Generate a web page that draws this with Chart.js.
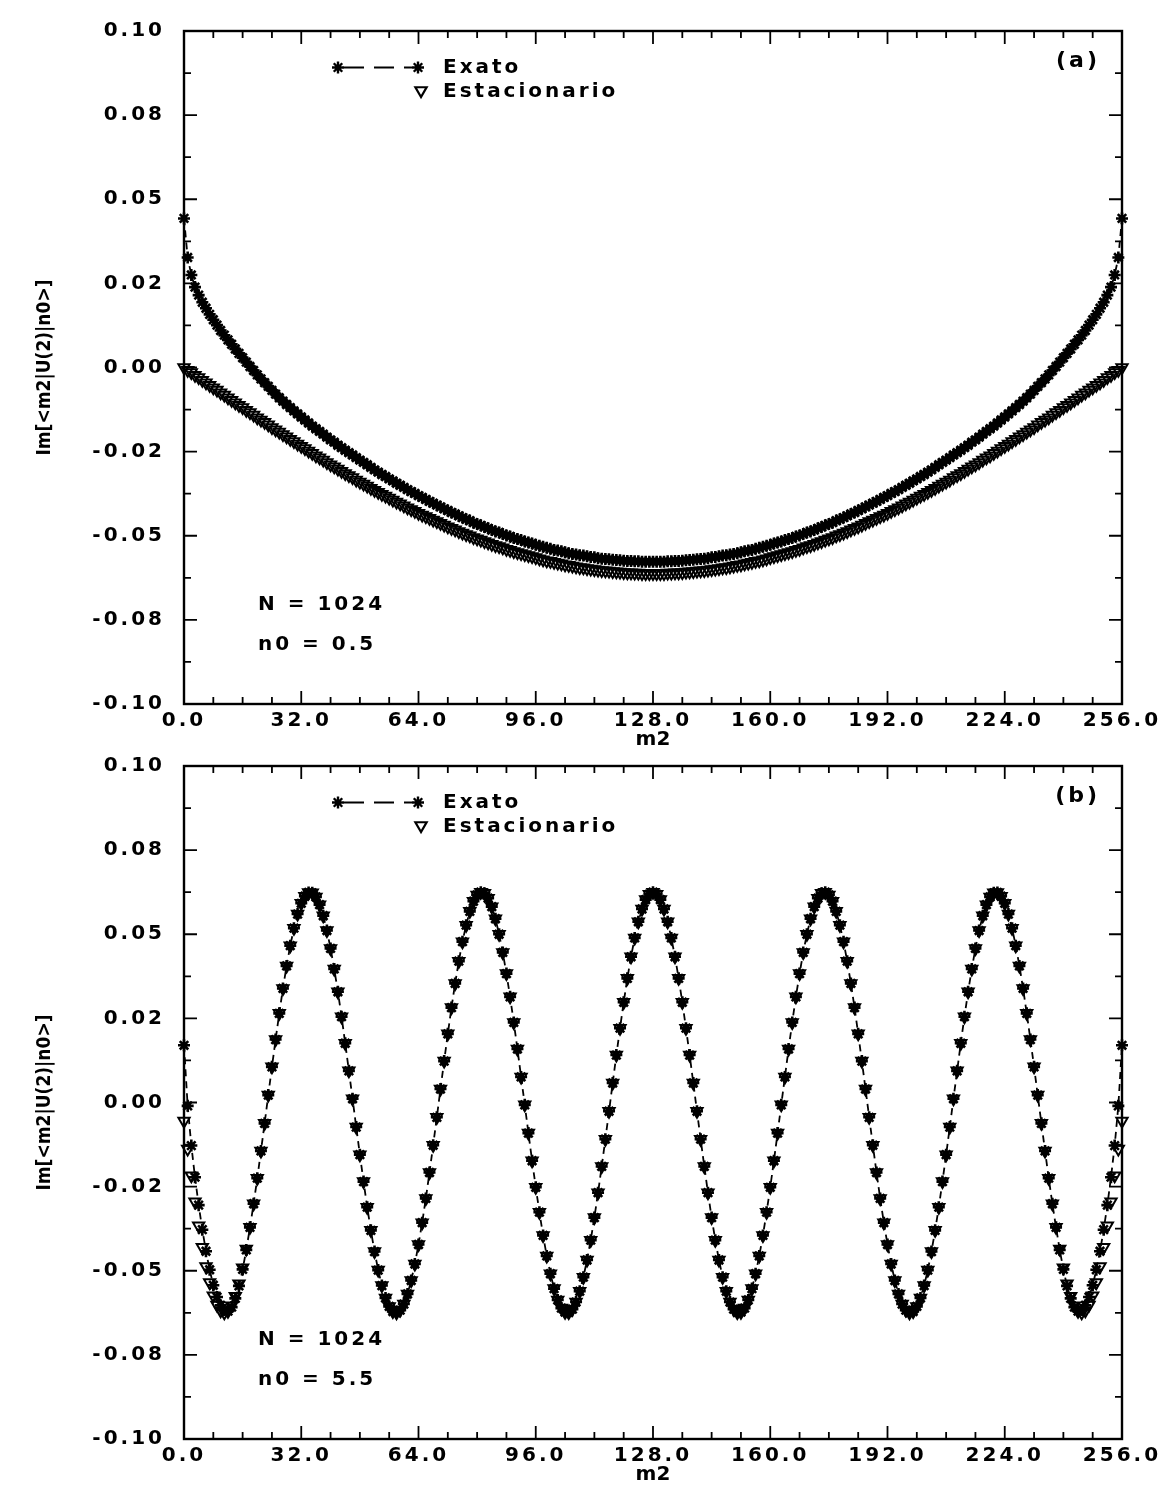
<!DOCTYPE html>
<html><head><meta charset="utf-8">
<script src="https://cdn.jsdelivr.net/npm/chart.js@4"></script>
<style>
html,body{margin:0;padding:0;background:#fff;}
#wrap{position:relative;width:1169px;height:1497px;background:#fff;overflow:hidden;}
canvas{position:absolute;left:0;}
#ca{top:0px;}
#cb{top:735px;}
</style></head><body>
<div id="wrap"><canvas id="ca" width="1169" height="762"></canvas><canvas id="cb" width="1169" height="762"></canvas></div>
<script>
const m2 = [0,1,2,3,4,5,6,7,8,9,10,11,12,13,14,15,16,17,18,19,20,21,22,23,24,25,26,27,28,29,30,31,32,33,34,35,36,37,38,39,40,41,42,43,44,45,46,47,48,49,50,51,52,53,54,55,56,57,58,59,60,61,62,63,64,65,66,67,68,69,70,71,72,73,74,75,76,77,78,79,80,81,82,83,84,85,86,87,88,89,90,91,92,93,94,95,96,97,98,99,100,101,102,103,104,105,106,107,108,109,110,111,112,113,114,115,116,117,118,119,120,121,122,123,124,125,126,127,128,129,130,131,132,133,134,135,136,137,138,139,140,141,142,143,144,145,146,147,148,149,150,151,152,153,154,155,156,157,158,159,160,161,162,163,164,165,166,167,168,169,170,171,172,173,174,175,176,177,178,179,180,181,182,183,184,185,186,187,188,189,190,191,192,193,194,195,196,197,198,199,200,201,202,203,204,205,206,207,208,209,210,211,212,213,214,215,216,217,218,219,220,221,222,223,224,225,226,227,228,229,230,231,232,233,234,235,236,237,238,239,240,241,242,243,244,245,246,247,248,249,250,251,252,253,254,255,256];

const exatoA = [0.0443,0.0327,0.0275,0.0239,0.0215,0.0194,0.0176,0.0158,0.0142,0.0126,
0.0110,0.0096,0.0082,0.0069,0.0055,0.0042,0.0029,0.0016,0.0003,-0.0009,
-0.0022,-0.0034,-0.0045,-0.0056,-0.0068,-0.0079,-0.0090,-0.0100,-0.0110,-0.0119,
-0.0129,-0.0138,-0.0147,-0.0156,-0.0165,-0.0174,-0.0182,-0.0190,-0.0198,-0.0207,
-0.0215,-0.0222,-0.0231,-0.0238,-0.0246,-0.0253,-0.0260,-0.0268,-0.0275,-0.0282,
-0.0289,-0.0297,-0.0304,-0.0311,-0.0318,-0.0324,-0.0331,-0.0337,-0.0344,-0.0350,
-0.0356,-0.0363,-0.0369,-0.0374,-0.0381,-0.0386,-0.0392,-0.0398,-0.0403,-0.0409,
-0.0414,-0.0420,-0.0425,-0.0431,-0.0435,-0.0441,-0.0446,-0.0451,-0.0455,-0.0461,
-0.0465,-0.0469,-0.0474,-0.0478,-0.0483,-0.0487,-0.0490,-0.0495,-0.0499,-0.0502,
-0.0507,-0.0510,-0.0513,-0.0517,-0.0520,-0.0523,-0.0527,-0.0530,-0.0533,-0.0536,
-0.0539,-0.0542,-0.0544,-0.0546,-0.0549,-0.0552,-0.0554,-0.0556,-0.0558,-0.0559,
-0.0561,-0.0563,-0.0564,-0.0567,-0.0568,-0.0569,-0.0570,-0.0571,-0.0572,-0.0573,
-0.0574,-0.0575,-0.0575,-0.0576,-0.0576,-0.0577,-0.0577,-0.0577,-0.0577,
-0.0577,-0.0577,-0.0577,-0.0576,-0.0576,-0.0575,-0.0575,-0.0574,
-0.0573,-0.0572,-0.0571,-0.0570,-0.0569,-0.0568,-0.0567,-0.0564,-0.0563,-0.0561,
-0.0559,-0.0558,-0.0556,-0.0554,-0.0552,-0.0549,-0.0546,-0.0544,-0.0542,-0.0539,
-0.0536,-0.0533,-0.0530,-0.0527,-0.0523,-0.0520,-0.0517,-0.0513,-0.0510,-0.0507,
-0.0502,-0.0499,-0.0495,-0.0490,-0.0487,-0.0483,-0.0478,-0.0474,-0.0469,-0.0465,
-0.0461,-0.0455,-0.0451,-0.0446,-0.0441,-0.0435,-0.0431,-0.0425,-0.0420,-0.0414,
-0.0409,-0.0403,-0.0398,-0.0392,-0.0386,-0.0381,-0.0374,-0.0369,-0.0363,-0.0356,
-0.0350,-0.0344,-0.0337,-0.0331,-0.0324,-0.0318,-0.0311,-0.0304,-0.0297,-0.0289,
-0.0282,-0.0275,-0.0268,-0.0260,-0.0253,-0.0246,-0.0238,-0.0231,-0.0222,-0.0215,
-0.0207,-0.0198,-0.0190,-0.0182,-0.0174,-0.0165,-0.0156,-0.0147,-0.0138,-0.0129,
-0.0119,-0.0110,-0.0100,-0.0090,-0.0079,-0.0068,-0.0056,-0.0045,-0.0034,-0.0022,
-0.0009,0.0003,0.0016,0.0029,0.0042,0.0055,0.0069,0.0082,0.0096,0.0110,
0.0126,0.0142,0.0158,0.0176,0.0194,0.0215,0.0239,0.0275,0.0327,0.0443];

const estacA = [0,-0.0008,-0.0015,-0.0023,-0.0030,-0.0038,-0.0045,-0.0053,-0.0060,-0.0067,
-0.0075,-0.0082,-0.0090,-0.0097,-0.0105,-0.0112,-0.0119,-0.0127,-0.0134,-0.0141,
-0.0149,-0.0156,-0.0163,-0.0170,-0.0178,-0.0185,-0.0192,-0.0199,-0.0206,-0.0213,
-0.0220,-0.0227,-0.0234,-0.0241,-0.0248,-0.0255,-0.0262,-0.0268,-0.0275,-0.0282,
-0.0289,-0.0295,-0.0302,-0.0308,-0.0315,-0.0321,-0.0327,-0.0334,-0.0340,-0.0346,
-0.0352,-0.0359,-0.0365,-0.0371,-0.0377,-0.0382,-0.0388,-0.0394,-0.0400,-0.0405,
-0.0411,-0.0417,-0.0422,-0.0427,-0.0433,-0.0438,-0.0443,-0.0448,-0.0453,-0.0458,
-0.0463,-0.0468,-0.0473,-0.0478,-0.0482,-0.0487,-0.0492,-0.0496,-0.0500,-0.0505,
-0.0509,-0.0513,-0.0517,-0.0521,-0.0525,-0.0529,-0.0532,-0.0536,-0.0540,-0.0543,
-0.0547,-0.0550,-0.0553,-0.0556,-0.0559,-0.0562,-0.0565,-0.0568,-0.0571,-0.0574,
-0.0576,-0.0579,-0.0581,-0.0583,-0.0586,-0.0588,-0.0590,-0.0592,-0.0594,-0.0595,
-0.0597,-0.0599,-0.0600,-0.0602,-0.0603,-0.0604,-0.0605,-0.0606,-0.0607,-0.0608,
-0.0609,-0.0610,-0.0610,-0.0611,-0.0611,-0.0612,-0.0612,-0.0612,-0.0612,
-0.0612,-0.0612,-0.0612,-0.0611,-0.0611,-0.0610,-0.0610,-0.0609,
-0.0608,-0.0607,-0.0606,-0.0605,-0.0604,-0.0603,-0.0602,-0.0600,-0.0599,-0.0597,
-0.0595,-0.0594,-0.0592,-0.0590,-0.0588,-0.0586,-0.0583,-0.0581,-0.0579,-0.0576,
-0.0574,-0.0571,-0.0568,-0.0565,-0.0562,-0.0559,-0.0556,-0.0553,-0.0550,-0.0547,
-0.0543,-0.0540,-0.0536,-0.0532,-0.0529,-0.0525,-0.0521,-0.0517,-0.0513,-0.0509,
-0.0505,-0.0500,-0.0496,-0.0492,-0.0487,-0.0482,-0.0478,-0.0473,-0.0468,-0.0463,
-0.0458,-0.0453,-0.0448,-0.0443,-0.0438,-0.0433,-0.0427,-0.0422,-0.0417,-0.0411,
-0.0405,-0.0400,-0.0394,-0.0388,-0.0382,-0.0377,-0.0371,-0.0365,-0.0359,-0.0352,
-0.0346,-0.0340,-0.0334,-0.0327,-0.0321,-0.0315,-0.0308,-0.0302,-0.0295,-0.0289,
-0.0282,-0.0275,-0.0268,-0.0262,-0.0255,-0.0248,-0.0241,-0.0234,-0.0227,-0.0220,
-0.0213,-0.0206,-0.0199,-0.0192,-0.0185,-0.0178,-0.0170,-0.0163,-0.0156,-0.0149,
-0.0141,-0.0134,-0.0127,-0.0119,-0.0112,-0.0105,-0.0097,-0.0090,-0.0082,-0.0075,
-0.0067,-0.0060,-0.0053,-0.0045,-0.0038,-0.0030,-0.0023,-0.0015,-0.0008,0];

const exatoB = [0.0170,-0.0010,-0.0128,-0.0222,-0.0305,-0.0378,-0.0442,-0.0497,-0.0543,-0.0578,
-0.0603,-0.0617,-0.0620,-0.0608,-0.0582,-0.0545,-0.0496,-0.0438,-0.0371,-0.0301,
-0.0225,-0.0144,-0.0062,0.0022,0.0106,0.0187,0.0265,0.0339,0.0406,0.0466,
0.0518,0.0560,0.0592,0.0613,0.0624,0.0623,0.0611,0.0588,0.0555,0.0511,
0.0458,0.0397,0.0329,0.0255,0.0176,0.0094,0.0011,-0.0073,-0.0155,-0.0235,
-0.0311,-0.0380,-0.0443,-0.0498,-0.0544,-0.0581,-0.0606,-0.0621,-0.0625,-0.0617,
-0.0599,-0.0569,-0.0529,-0.0480,-0.0422,-0.0357,-0.0285,-0.0208,-0.0127,-0.0044,
0.0040,0.0123,0.0204,0.0282,0.0354,0.0420,0.0478,0.0527,0.0568,0.0598,
0.0617,0.0625,0.0622,0.0607,0.0582,0.0546,0.0500,0.0446,0.0383,0.0314,
0.0238,0.0159,0.0076,-0.0007,-0.0091,-0.0173,-0.0252,-0.0326,-0.0395,-0.0456,
-0.0509,-0.0553,-0.0587,-0.0611,-0.0623,-0.0624,-0.0614,-0.0593,-0.0561,-0.0519,
-0.0468,-0.0409,-0.0342,-0.0268,-0.0190,-0.0109,-0.0026,0.0058,0.0141,0.0221,
0.0298,0.0369,0.0433,0.0489,0.0537,0.0575,0.0603,0.0619,0.0625,
0.0619,0.0603,0.0575,0.0537,0.0489,0.0433,0.0369,0.0298,
0.0221,0.0141,0.0058,-0.0026,-0.0109,-0.0190,-0.0268,-0.0342,-0.0409,-0.0468,
-0.0519,-0.0561,-0.0593,-0.0614,-0.0624,-0.0623,-0.0611,-0.0587,-0.0553,-0.0509,
-0.0456,-0.0395,-0.0326,-0.0252,-0.0173,-0.0091,-0.0007,0.0076,0.0159,0.0238,
0.0314,0.0383,0.0446,0.0500,0.0546,0.0582,0.0607,0.0622,0.0625,0.0617,
0.0598,0.0568,0.0527,0.0478,0.0420,0.0354,0.0282,0.0204,0.0123,0.0040,
-0.0044,-0.0127,-0.0208,-0.0285,-0.0357,-0.0422,-0.0480,-0.0529,-0.0569,-0.0599,
-0.0617,-0.0625,-0.0621,-0.0606,-0.0581,-0.0544,-0.0498,-0.0443,-0.0380,-0.0311,
-0.0235,-0.0155,-0.0073,0.0011,0.0094,0.0176,0.0255,0.0329,0.0397,0.0458,
0.0511,0.0555,0.0588,0.0611,0.0623,0.0624,0.0613,0.0592,0.0560,0.0518,
0.0466,0.0406,0.0339,0.0265,0.0187,0.0106,0.0022,-0.0062,-0.0144,-0.0225,
-0.0301,-0.0371,-0.0438,-0.0496,-0.0545,-0.0582,-0.0608,-0.0620,-0.0617,-0.0603,
-0.0578,-0.0543,-0.0497,-0.0442,-0.0378,-0.0305,-0.0222,-0.0128,-0.0010,0.0170];

const estacB = [-0.0055,-0.0138,-0.0218,-0.0295,-0.0366,-0.0430,-0.0487,-0.0535,-0.0574,-0.0602,
-0.0619,-0.0625,-0.0620,-0.0604,-0.0576,-0.0539,-0.0491,-0.0435,-0.0371,-0.0301,
-0.0225,-0.0144,-0.0062,0.0022,0.0106,0.0187,0.0265,0.0339,0.0406,0.0466,
0.0518,0.0560,0.0592,0.0613,0.0624,0.0623,0.0611,0.0588,0.0555,0.0511,
0.0458,0.0397,0.0329,0.0255,0.0176,0.0094,0.0011,-0.0073,-0.0155,-0.0235,
-0.0311,-0.0380,-0.0443,-0.0498,-0.0544,-0.0581,-0.0606,-0.0621,-0.0625,-0.0617,
-0.0599,-0.0569,-0.0529,-0.0480,-0.0422,-0.0357,-0.0285,-0.0208,-0.0127,-0.0044,
0.0040,0.0123,0.0204,0.0282,0.0354,0.0420,0.0478,0.0527,0.0568,0.0598,
0.0617,0.0625,0.0622,0.0607,0.0582,0.0546,0.0500,0.0446,0.0383,0.0314,
0.0238,0.0159,0.0076,-0.0007,-0.0091,-0.0173,-0.0252,-0.0326,-0.0395,-0.0456,
-0.0509,-0.0553,-0.0587,-0.0611,-0.0623,-0.0624,-0.0614,-0.0593,-0.0561,-0.0519,
-0.0468,-0.0409,-0.0342,-0.0268,-0.0190,-0.0109,-0.0026,0.0058,0.0141,0.0221,
0.0298,0.0369,0.0433,0.0489,0.0537,0.0575,0.0603,0.0619,0.0625,
0.0619,0.0603,0.0575,0.0537,0.0489,0.0433,0.0369,0.0298,
0.0221,0.0141,0.0058,-0.0026,-0.0109,-0.0190,-0.0268,-0.0342,-0.0409,-0.0468,
-0.0519,-0.0561,-0.0593,-0.0614,-0.0624,-0.0623,-0.0611,-0.0587,-0.0553,-0.0509,
-0.0456,-0.0395,-0.0326,-0.0252,-0.0173,-0.0091,-0.0007,0.0076,0.0159,0.0238,
0.0314,0.0383,0.0446,0.0500,0.0546,0.0582,0.0607,0.0622,0.0625,0.0617,
0.0598,0.0568,0.0527,0.0478,0.0420,0.0354,0.0282,0.0204,0.0123,0.0040,
-0.0044,-0.0127,-0.0208,-0.0285,-0.0357,-0.0422,-0.0480,-0.0529,-0.0569,-0.0599,
-0.0617,-0.0625,-0.0621,-0.0606,-0.0581,-0.0544,-0.0498,-0.0443,-0.0380,-0.0311,
-0.0235,-0.0155,-0.0073,0.0011,0.0094,0.0176,0.0255,0.0329,0.0397,0.0458,
0.0511,0.0555,0.0588,0.0611,0.0623,0.0624,0.0613,0.0592,0.0560,0.0518,
0.0466,0.0406,0.0339,0.0265,0.0187,0.0106,0.0022,-0.0062,-0.0144,-0.0225,
-0.0301,-0.0371,-0.0435,-0.0491,-0.0539,-0.0576,-0.0604,-0.0620,-0.0625,-0.0619,
-0.0602,-0.0574,-0.0535,-0.0487,-0.0430,-0.0366,-0.0295,-0.0218,-0.0138,-0.0055];

const xMajor = [0,32,64,96,128,160,192,224,256];
const xTickLabels = ['0.0','32.0','64.0','96.0','128.0','160.0','192.0','224.0','256.0'];
const xMinor = [8,16,24,40,48,56,72,80,88,104,112,120,136,144,152,168,176,184,200,208,216,232,240,248];
const yMajor = [-0.1,-0.075,-0.05,-0.025,0,0.025,0.05,0.075,0.1];
const yTickLabels = ['-0.10','-0.08','-0.05','-0.02','0.00','0.02','0.05','0.08','0.10'];
const yMinor = [-0.0875,-0.0625,-0.0375,-0.0125,0.0125,0.0375,0.0625,0.0875];
const seriesNames = ['Exato','Estacionario'];
const yTitle = 'Im[<m2|U(2)|n0>]';
const xTitle = 'm2';

const BOLD = '"DejaVu Sans", "Liberation Sans", sans-serif';
const TICK_LS = '3px';

const decor = {
  id: 'decor',
  beforeDraw(chart){ chart.ctx.letterSpacing = '0px'; },
  afterDatasetsDraw(chart){ chart.ctx.letterSpacing = TICK_LS; },
  afterDraw(chart, args, o){
    const ctx = chart.ctx, a = chart.chartArea, xs = chart.scales.x, ys = chart.scales.y;
    ctx.save();
    ctx.letterSpacing = '0px';
    ctx.strokeStyle = '#000';
    ctx.lineWidth = 2.4;
    ctx.strokeRect(a.left, a.top, a.right - a.left, a.bottom - a.top);
    ctx.lineWidth = 1.8;
    ctx.beginPath();
    xMajor.forEach(v => { const p = xs.getPixelForValue(v); ctx.moveTo(p, a.bottom); ctx.lineTo(p, a.bottom - 13); ctx.moveTo(p, a.top); ctx.lineTo(p, a.top + 13); });
    xMinor.forEach(v => { const p = xs.getPixelForValue(v); ctx.moveTo(p, a.bottom); ctx.lineTo(p, a.bottom - 7); ctx.moveTo(p, a.top); ctx.lineTo(p, a.top + 7); });
    yMajor.forEach(v => { const p = ys.getPixelForValue(v); ctx.moveTo(a.left, p); ctx.lineTo(a.left + 13, p); ctx.moveTo(a.right, p); ctx.lineTo(a.right - 13, p); });
    yMinor.forEach(v => { const p = ys.getPixelForValue(v); ctx.moveTo(a.left, p); ctx.lineTo(a.left + 7, p); ctx.moveTo(a.right, p); ctx.lineTo(a.right - 7, p); });
    ctx.stroke();

    // legend
    const ly1 = 67.5, ly2 = 91.5;
    ctx.lineWidth = 2.4;
    ctx.fillStyle = '#000';
    Chart.helpers.drawPoint(ctx, {pointStyle: 'star', radius: 6, rotation: 0, borderWidth: 2.4}, 338, ly1);
    Chart.helpers.drawPoint(ctx, {pointStyle: 'star', radius: 6, rotation: 0, borderWidth: 2.4}, 418, ly1);
    ctx.beginPath();
    ctx.lineWidth = 1.8;
    ctx.setLineDash([20, 10]);
    ctx.moveTo(344, ly1); ctx.lineTo(412, ly1);
    ctx.stroke();
    ctx.setLineDash([]);
    ctx.lineWidth = 2.2;
    ctx.fillStyle = 'rgba(0,0,0,0)';
    Chart.helpers.drawPoint(ctx, {pointStyle: 'triangle', radius: 6.5, rotation: 180, borderWidth: 2.2}, 421, ly2 - 1);

    ctx.fillStyle = '#000';
    ctx.letterSpacing = '3px';
    ctx.font = 'bold 20px ' + BOLD;
    ctx.textBaseline = 'middle';
    ctx.textAlign = 'left';
    ctx.fillText(seriesNames[0], 443, ly1);
    ctx.fillText(seriesNames[1], 443, ly2);
    ctx.font = 'bold 22px ' + BOLD;
    ctx.textAlign = 'right';
    ctx.fillText(o.tag, 1100, 61);
    ctx.textAlign = 'left';
    ctx.font = 'bold 20px ' + BOLD;
    ctx.fillText(o.nText, 258, 605);
    ctx.fillText(o.n0Text, 258, 645);
    ctx.restore();
  }
};

function xy(vals){ return m2.map((m, i) => ({x: m, y: vals[i]})); }

function makeChart(id, exato, estac, tag, n0Text){
  return new Chart(document.getElementById(id), {
    type: 'line',
    data: {
      datasets: [
        {label: seriesNames[0], data: xy(exato), showLine: true, borderColor: '#000', borderWidth: 1.8, borderDash: [7, 5],
         pointStyle: 'star', pointRadius: 6, pointBorderWidth: 2.6, pointBorderColor: '#000', pointBackgroundColor: '#000', tension: 0, clip: false},
        {label: seriesNames[1], data: xy(estac), showLine: false, borderColor: '#000',
         pointStyle: 'triangle', rotation: 180, pointRadius: 6.5, pointBorderWidth: 2, pointBorderColor: '#000', pointBackgroundColor: 'rgba(255,255,255,0)', clip: false}
      ]
    },
    options: {
      responsive: false, animation: false, devicePixelRatio: 1,
      layout: {padding: {left: 0, right: 47, top: 21, bottom: 0}},
      plugins: {legend: {display: false}, tooltip: {enabled: false}, decor: {tag: tag, nText: 'N = 1024', n0Text: n0Text}},
      scales: {
        x: {type: 'linear', min: 0, max: 256,
            ticks: {stepSize: 32, autoSkip: false, maxRotation: 0, callback: (v, i) => xTickLabels[i], font: {family: BOLD, size: 20, weight: 'bold'}, color: '#000', padding: 5, z: 1},
            grid: {display: false, drawTicks: false, z: -1}, border: {display: false},
            title: {display: true, text: xTitle, font: {family: BOLD, size: 20, weight: 'bold'}, color: '#000', padding: {top: 0, bottom: 10}},
            afterFit(s){ s.height = 58; }},
        y: {type: 'linear', min: -0.1, max: 0.1,
            ticks: {stepSize: 0.025, callback: (v, i) => yTickLabels[i], font: {family: BOLD, size: 20, weight: 'bold'}, color: '#000', padding: 19, z: 1},
            grid: {display: false, drawTicks: false, z: -1}, border: {display: false},
            title: {display: true, text: yTitle, font: {family: '"Liberation Sans Narrow", "DejaVu Sans Condensed", "Liberation Sans", sans-serif', size: 19, weight: 'bold'}, color: '#000', padding: {top: 34, bottom: 0}},
            afterFit(s){ s.width = 184; }}
      }
    },
    plugins: [decor]
  });
}

makeChart('ca', exatoA, estacA, '(a)', 'n0 = 0.5');
makeChart('cb', exatoB, estacB, '(b)', 'n0 = 5.5');
</script>
</body></html>
